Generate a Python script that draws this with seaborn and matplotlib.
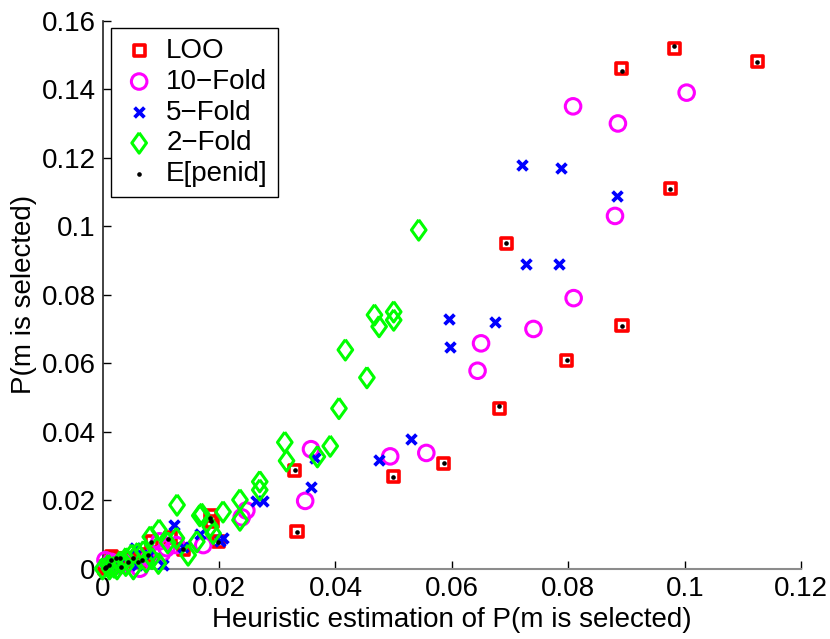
import numpy as np
import pandas as pd
import matplotlib
matplotlib.use("Agg")
import matplotlib.pyplot as plt
from matplotlib.ticker import FuncFormatter
import seaborn as sns

# values
loo_x = [0.0982, 0.0891, 0.1124, 0.0975, 0.0693, 0.0892, 0.0797, 0.0681, 0.0586, 0.0499,
         0.0330, 0.0334, 0.0186, 0.0188, 0.0199, 0.0139, 0.0116, 0.0084, 0.0078, 0.0067,
         0.0061, 0.0052, 0.0044, 0.0032, 0.0030, 0.0024, 0.0015, 0.0012, 0.0006, 0.0003]
loo_y = [0.1520, 0.1461, 0.1480, 0.1110, 0.0950, 0.0710, 0.0609, 0.0468, 0.0308, 0.0269,
         0.0288, 0.0108, 0.0155, 0.0138, 0.0079, 0.0057, 0.0091, 0.0079, 0.0040, 0.0025,
         0.0020, 0.0030, 0.0020, 0.0006, 0.0030, 0.0030, 0.0035, 0.0011, 0.0006, 0.0001]

tenfold_x = [0.0808, 0.1003, 0.0885, 0.0880, 0.0809, 0.0740, 0.0650, 0.0644, 0.0556, 0.0494,
             0.0358, 0.0348, 0.0247, 0.0239, 0.0173, 0.0127, 0.0102, 0.0098, 0.0064, 0.0045,
             0.0030, 0.0015, 0.0005, 0.0080, 0.0110]
tenfold_y = [0.1350, 0.1390, 0.1300, 0.1030, 0.0790, 0.0700, 0.0658, 0.0578, 0.0338, 0.0328,
             0.0349, 0.0198, 0.0170, 0.0150, 0.0069, 0.0069, 0.0045, 0.0080, 0.0000, 0.0015,
             0.0010, 0.0020, 0.0025, 0.0030, 0.0060]

fivefold_x = [0.0721, 0.0787, 0.0883, 0.0728, 0.0783, 0.0674, 0.0595, 0.0597, 0.0530, 0.0475,
              0.0365, 0.0358, 0.0275, 0.0263, 0.0207, 0.0201, 0.0167, 0.0139, 0.0122, 0.0104,
              0.0055, 0.0030, 0.0080, 0.0015, 0.0060]
fivefold_y = [0.1180, 0.1169, 0.1089, 0.0889, 0.0889, 0.0719, 0.0729, 0.0648, 0.0379, 0.0317,
              0.0322, 0.0239, 0.0198, 0.0198, 0.0089, 0.0080, 0.0100, 0.0064, 0.0128, 0.0010,
              0.0060, 0.0020, 0.0040, 0.0010, 0.0010]

twofold_x = [0.0543, 0.0467, 0.0500, 0.0500, 0.0475, 0.0417, 0.0454, 0.0406, 0.0313, 0.0391,
             0.0316, 0.0369, 0.0270, 0.0270, 0.0236, 0.0236, 0.0207, 0.0128, 0.0170, 0.0167,
             0.0185, 0.0190, 0.0162, 0.0147, 0.0097, 0.0082, 0.0127, 0.0112, 0.0096, 0.0053,
             0.0000, 0.0010, 0.0020, 0.0030, 0.0040, 0.0050, 0.0060, 0.0070, 0.0075, 0.0085,
             0.0012, 0.0025, 0.0040]
twofold_y = [0.0989, 0.0741, 0.0750, 0.0726, 0.0707, 0.0639, 0.0558, 0.0468, 0.0369, 0.0358,
             0.0315, 0.0327, 0.0254, 0.0230, 0.0201, 0.0142, 0.0166, 0.0186, 0.0160, 0.0155,
             0.0123, 0.0103, 0.0079, 0.0040, 0.0113, 0.0093, 0.0089, 0.0076, 0.0016, 0.0000,
             0.0000, 0.0010, 0.0005, 0.0020, 0.0030, 0.0040, 0.0045, 0.0050, 0.0020, 0.0030,
             0.0000, 0.0000, 0.0010]

penid_x = [0.0982, 0.0892, 0.1124, 0.0975, 0.0693, 0.0892, 0.0797, 0.0681, 0.0586, 0.0499,
           0.0330, 0.0334, 0.0185, 0.0186, 0.0199, 0.0139, 0.0113, 0.0084, 0.0078, 0.0067,
           0.0061, 0.0052, 0.0044, 0.0032, 0.0030, 0.0024, 0.0015, 0.0012, 0.0006, 0.0004]
penid_y = [0.1527, 0.1452, 0.1480, 0.1110, 0.0950, 0.0710, 0.0609, 0.0474, 0.0308, 0.0269,
           0.0288, 0.0108, 0.0148, 0.0138, 0.0079, 0.0058, 0.0087, 0.0079, 0.0040, 0.0025,
           0.0020, 0.0030, 0.0020, 0.0006, 0.0030, 0.0030, 0.0025, 0.0011, 0.0006, 0.0001]

sns.set_theme(style="ticks")
plt.rcParams['font.family'] = ['Liberation Sans', 'DejaVu Sans']
plt.rcParams['axes.unicode_minus'] = True
plt.rcParams['text.color'] = 'black'
plt.rcParams['axes.labelcolor'] = 'black'

fs = 20
fig = plt.figure(figsize=(8.3, 6.39), dpi=100)
ax = fig.add_axes([0.1235, 0.110, 0.842, 0.8576])

diamond = [(0, 1), (0.72, 0), (0, -1), (-0.72, 0), (0, 1)]

sns.scatterplot(x=loo_x, y=loo_y, ax=ax, marker='s', s=64, facecolors='none',
                edgecolor='#ff0000', linewidth=2.6, label='LOO', clip_on=False, zorder=3)
sns.scatterplot(x=tenfold_x, y=tenfold_y, ax=ax, marker='o', s=125, facecolors='none',
                edgecolor='#ff00ff', linewidth=2.2, label='10\u2212Fold', clip_on=False, zorder=3)
sns.scatterplot(x=fivefold_x, y=fivefold_y, ax=ax, marker='x', s=50, color='#0000ff',
                linewidth=2.7, label='5\u2212Fold', clip_on=False, zorder=3)
sns.scatterplot(x=twofold_x, y=twofold_y, ax=ax, marker=diamond, s=215, facecolors='none',
                edgecolor='#00ff00', linewidth=2.2, label='2\u2212Fold', clip_on=False, zorder=3)
sns.scatterplot(x=penid_x, y=penid_y, ax=ax, marker='o', s=11, color='black',
                linewidth=0, label='E[penid]', clip_on=False, zorder=4)

ax.set_xlim(0, 0.12)
ax.set_ylim(0, 0.16)
ax.set_xticks(np.arange(0, 0.1201, 0.02))
ax.set_yticks(np.arange(0, 0.1601, 0.02))
fmt = FuncFormatter(lambda v, p: '%g' % round(v, 4))
ax.xaxis.set_major_formatter(fmt)
ax.yaxis.set_major_formatter(fmt)
ax.tick_params(direction='in', length=6, width=1, labelsize=fs, colors='black', pad=5)

ax.set_xlabel('Heuristic estimation of P(m is selected)', fontsize=fs, labelpad=4)
ax.set_ylabel('P(m is selected)', fontsize=fs, labelpad=3)

sns.despine(ax=ax)
ax.spines['left'].set_color('#222222')
ax.spines['bottom'].set_color('#8c8c8c')
ax.spines['left'].set_linewidth(1.2)
ax.spines['bottom'].set_linewidth(1.5)

leg = ax.legend(loc='upper left', bbox_to_anchor=(0.0117, 0.986), borderaxespad=0,
                fontsize=fs, frameon=True, fancybox=False, framealpha=1,
                labelspacing=0.17, handlelength=1.35, handletextpad=0.3,
                borderpad=0.35, markerscale=1.0)
leg.get_frame().set_edgecolor('black')
leg.get_frame().set_linewidth(1.0)

fig.savefig('out.png', dpi=100)
